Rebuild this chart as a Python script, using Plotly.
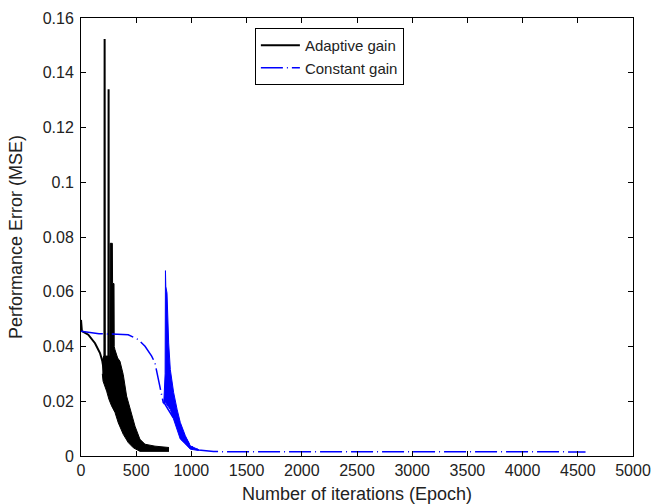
import plotly.graph_objects as go

# Adaptive gain: smooth start, two tall spikes, tail
adaptive_x = [0, 8, 66, 127, 172, 193, 212, 214, 216, 248, 250, 252, 300, 400, 534, 700, 797]
adaptive_y = [0.0497, 0.0456, 0.0443, 0.0412, 0.0376, 0.0347, 0.030, 0.1523, 0.028, 0.026, 0.134, 0.024, 0.020, 0.010, 0.0035, 0.0028, 0.0025]

# Adaptive gain: envelope of the dense oscillation band
adaptive_low_x = [193, 200, 232, 253, 277, 308, 338, 383, 428, 474, 534, 797]
adaptive_low_y = [0.0300, 0.0273, 0.0237, 0.0207, 0.0183, 0.0159, 0.0121, 0.0079, 0.0049, 0.0030, 0.0017, 0.0017]
adaptive_up_x = [193, 205, 262, 264, 284, 286, 299, 301, 308, 332, 353, 383, 413, 444, 489, 534, 580, 670, 797]
adaptive_up_y = [0.0347, 0.0365, 0.0365, 0.0777, 0.0777, 0.063, 0.063, 0.040, 0.0388, 0.0358, 0.0346, 0.0297, 0.0219, 0.0170, 0.0109, 0.0061, 0.0043, 0.0036, 0.0031]

# Constant gain: dash-dot curve and long flat tail
constant_x = [0, 163, 428, 519, 580, 640, 670, 700, 725, 745, 760, 990, 1065, 1200, 4570]
constant_y = [0.0456, 0.0447, 0.0443, 0.0425, 0.0401, 0.0365, 0.0340, 0.0280, 0.0237, 0.0195, 0.0190, 0.0037, 0.0022, 0.0016, 0.0015]

# Constant gain: envelope of its oscillation band with the spike
constant_low_x = [750, 764, 809, 839, 870, 899, 945, 990, 1065]
constant_low_y = [0.0190, 0.0195, 0.0170, 0.0135, 0.0098, 0.0062, 0.0044, 0.0025, 0.0020]
constant_up_x = [750, 762, 765, 768, 779, 794, 809, 839, 870, 899, 945, 990, 1065]
constant_up_y = [0.0195, 0.0300, 0.0677, 0.0620, 0.0595, 0.0413, 0.0316, 0.0232, 0.0171, 0.0123, 0.0074, 0.0037, 0.0023]

x_ticks = list(range(0, 5001, 500))
y_ticks = [0, 0.02, 0.04, 0.06, 0.08, 0.1, 0.12, 0.14, 0.16]
y_labels = ["0", "0.02", "0.04", "0.06", "0.08", "0.1", "0.12", "0.14", "0.16"]

fig = go.Figure()

fig.add_trace(go.Scatter(x=adaptive_x, y=adaptive_y, mode="lines",
                         line=dict(color="black", width=2), name="Adaptive gain"))
fig.add_trace(go.Scatter(x=adaptive_low_x, y=adaptive_low_y, mode="lines",
                         line=dict(color="black", width=1), showlegend=False))
fig.add_trace(go.Scatter(x=adaptive_up_x, y=adaptive_up_y, mode="lines", fill="tonexty",
                         fillcolor="black", line=dict(color="black", width=1), showlegend=False))

fig.add_trace(go.Scatter(x=constant_x, y=constant_y, mode="lines",
                         line=dict(color="blue", width=1.5, dash="22px,4px,1px,4px"),
                         name="Constant gain"))
fig.add_trace(go.Scatter(x=constant_low_x, y=constant_low_y, mode="lines",
                         line=dict(color="blue", width=1), showlegend=False))
fig.add_trace(go.Scatter(x=constant_up_x, y=constant_up_y, mode="lines", fill="tonexty",
                         fillcolor="blue", line=dict(color="blue", width=1), showlegend=False))

axis_style = dict(showline=True, linecolor="black", linewidth=1, mirror="ticks",
                  ticks="inside", ticklen=5, tickcolor="black", showgrid=False,
                  zeroline=False, automargin=False,
                  tickfont=dict(size=16, color="#222"))

fig.update_xaxes(range=[0, 5000], tickvals=x_ticks,
                 title=dict(text="Number of iterations (Epoch)", font=dict(size=18, color="#222")),
                 **axis_style)
fig.update_yaxes(range=[0, 0.16], tickvals=y_ticks, ticktext=y_labels, ticklabelstandoff=3,
                 title=dict(text="Performance Error (MSE)", font=dict(size=18, color="#222")),
                 **axis_style)

fig.update_layout(
    width=651, height=504,
    margin=dict(l=81, r=18, t=18, b=48),
    paper_bgcolor="white", plot_bgcolor="white",
    font=dict(family="Liberation Sans, Arial, sans-serif", color="#222"),
    legend=dict(x=0.315, y=0.977, xanchor="left", yanchor="top", traceorder="normal",
                bgcolor="white", bordercolor="black", borderwidth=1, itemwidth=39,
                font=dict(size=15, color="#222"), tracegroupgap=0),
)

# drop the default body margin so the figure fills the window exactly
fig.write_html("out.html", config={"displayModeBar": False},
               post_script="document.body.style.margin='0';document.body.style.overflow='hidden';")
